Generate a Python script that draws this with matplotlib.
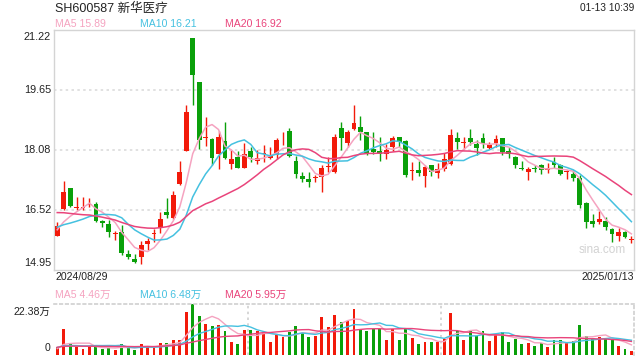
import matplotlib
matplotlib.use("Agg")
import matplotlib.pyplot as plt
import numpy as np
import pandas as pd

plt.rcParams['font.family'] = ['Liberation Sans', 'Noto Sans CJK SC', 'DejaVu Sans']

# daily OHLC, 2024/08/29 .. 2025/01/13 (90 sessions)
opens = [15.85, 16.54, 17.08, 16.56, 16.58, 16.66, 16.67, 16.24, 16.15, 15.88,
         15.93, 15.38, 15.25, 15.28, 15.63, 15.88, 16.04, 16.46, 16.30, 17.20,
         18.06, 21.00, 19.85, 18.40, 18.37, 17.98, 18.32, 17.71, 17.91, 17.62,
         18.06, 17.81, 17.99, 17.87, 17.95, 18.49, 18.58, 17.80, 17.41, 17.33,
         17.36, 17.39, 17.64, 17.52, 18.65, 18.26, 18.63, 18.69, 18.56, 18.11,
         18.06, 17.98, 18.17, 18.43, 18.32, 17.54, 17.55, 17.41, 17.69, 17.49,
         17.59, 17.71, 18.39, 18.26, 18.41, 18.24, 18.39, 18.15, 18.26, 18.39,
         18.06, 17.90, 17.62, 17.52, 17.61, 17.69, 17.55, 17.78, 17.69, 17.51,
         17.46, 17.36, 16.69, 16.23, 16.20, 16.23, 16.02, 15.84, 15.93, 15.73]
highs = [16.21, 17.28, 17.09, 16.85, 16.85, 16.84, 16.73, 16.26, 16.26, 15.97,
         16.13, 15.46, 15.36, 15.71, 15.78, 16.02, 16.46, 16.82, 17.02, 17.80,
         19.26, 21.02, 19.85, 18.95, 18.39, 18.58, 18.81, 18.09, 18.06, 18.26,
         18.17, 18.09, 18.21, 18.17, 18.39, 18.55, 18.65, 17.94, 17.52, 17.52,
         17.43, 17.69, 17.91, 18.49, 18.81, 18.61, 19.26, 18.98, 18.56, 18.56,
         18.43, 18.24, 18.46, 18.43, 18.35, 17.78, 17.80, 17.69, 17.69, 17.75,
         18.00, 18.63, 18.55, 18.43, 18.63, 18.35, 18.52, 18.29, 18.48, 18.39,
         18.17, 17.94, 17.80, 17.65, 17.69, 17.71, 17.74, 17.89, 17.71, 17.55,
         17.55, 17.43, 16.72, 16.40, 16.50, 16.34, 16.06, 16.04, 15.98, 15.84]
lows = [15.84, 16.52, 16.60, 16.52, 16.52, 16.60, 16.21, 16.08, 15.82, 15.73,
        15.34, 15.24, 15.12, 15.10, 15.47, 15.67, 15.91, 16.32, 16.27, 17.17,
        18.06, 19.26, 18.11, 18.20, 17.69, 17.60, 17.85, 17.60, 17.61, 17.61,
        17.78, 17.71, 17.76, 17.85, 17.85, 18.22, 17.91, 17.35, 17.26, 17.11,
        17.24, 17.00, 17.52, 17.48, 18.08, 18.17, 18.61, 18.35, 17.95, 17.97,
        17.80, 17.84, 18.06, 18.17, 17.39, 17.30, 17.41, 17.13, 17.41, 17.36,
        17.54, 17.69, 18.11, 18.11, 18.22, 17.95, 18.13, 18.11, 18.17, 17.95,
        17.87, 17.62, 17.55, 17.30, 17.52, 17.46, 17.48, 17.62, 17.43, 17.33,
        17.28, 16.58, 16.04, 16.08, 16.15, 15.99, 15.67, 15.71, 15.78, 15.66]
closes = [16.10, 16.98, 16.62, 16.60, 16.60, 16.68, 16.24, 16.17, 15.95, 15.90,
          15.40, 15.28, 15.17, 15.60, 15.71, 15.90, 16.28, 16.39, 16.91, 17.52,
          19.07, 20.04, 18.35, 18.42, 17.87, 18.42, 17.87, 17.85, 17.62, 17.98,
          17.89, 17.87, 18.00, 17.93, 18.35, 18.50, 17.94, 17.45, 17.33, 17.26,
          17.38, 17.62, 17.66, 18.43, 18.39, 18.56, 18.80, 18.55, 18.00, 18.02,
          17.99, 18.09, 18.41, 18.30, 17.43, 17.55, 17.49, 17.63, 17.52, 17.59,
          17.84, 18.48, 18.29, 18.28, 18.30, 18.13, 18.23, 18.22, 18.37, 18.02,
          17.97, 17.69, 17.60, 17.59, 17.60, 17.55, 17.61, 17.69, 17.46, 17.52,
          17.36, 16.65, 16.21, 16.15, 16.28, 16.08, 15.89, 15.95, 15.81, 15.74]
# volume in 万 shares
volumes = [3.4, 11.6, 4.9, 3.4, 2.7, 3.4, 4.0, 2.7, 3.0, 2.2,
           4.9, 3.4, 2.2, 4.9, 3.7, 3.4, 5.3, 5.3, 6.7, 6.7,
           18.8, 22.38, 16.9, 13.8, 12.9, 13.3, 10.4, 5.5, 4.9, 11.1,
           11.1, 10.4, 9.6, 5.5, 8.9, 7.9, 9.9, 12.6, 9.6, 7.7,
           8.2, 16.6, 12.2, 17.5, 14.4, 14.8, 20.0, 11.4, 10.4, 11.6,
           11.6, 6.4, 11.4, 6.8, 11.4, 7.6, 5.0, 5.9, 5.5, 5.9,
           7.1, 18.4, 10.7, 6.8, 10.7, 8.2, 10.7, 6.2, 8.7, 10.2,
           5.5, 7.1, 5.0, 5.3, 4.0, 5.2, 3.3, 6.7, 6.7, 5.3,
           6.2, 13.1, 8.4, 7.1, 7.7, 7.6, 6.4, 4.0, 2.7, 1.6]
# sessions before the window (estimated), needed for the moving averages
prev_closes = [17.05, 17.00, 16.95, 16.92, 16.83, 16.80, 16.75, 16.68, 16.67, 16.65,
               16.35, 16.20, 16.10, 16.05, 16.00, 15.95, 15.90, 16.00, 16.05]
prev_volumes = [3.2, 3.8, 3.5, 3.1, 3.6, 3.9, 3.4, 3.3, 3.7, 3.5,
                4.2, 3.6, 3.9, 3.8, 3.5, 2.4, 2.9, 2.6, 2.7]

title = 'SH600587 新华医疗'
stamp = '01-13 10:39'
start_label, end_label = '2024/08/29', '2025/01/13'
price_ticks = [21.22, 19.65, 18.08, 16.52, 14.95]
ma_names = ['MA5', 'MA10', 'MA20']
ma_windows = [5, 10, 20]
ma_price_text = ['15.89', '16.21', '16.92']
ma_vol_text = ['4.46万', '6.48万', '5.95万']
vol_max_label = '22.38万'

ma_colors = ['#f5a3c0', '#45c1e0', '#e9447b']
RED, GREEN = '#f21a0a', '#0aa00a'
W, H = 640, 360

n = len(closes)
x = np.arange(n)
o, h, l, c = map(np.array, (opens, highs, lows, closes))
up = c >= o
cols = np.where(up, RED, GREEN)

fig = plt.figure(figsize=(6.4, 3.6), dpi=100)

def px(xp, yp):
    return xp / W, 1 - yp / H

ax = fig.add_axes([54 / W, 90 / H, 580 / W, 240 / H])
ax.set_xlim(-0.5, n - 0.6)
ax.set_ylim(price_ticks[-1], price_ticks[0])
for s in ax.spines.values():
    s.set_color('#d4d4d4')
    s.set_linewidth(1)
ax.set_xticks([])
ax.set_yticks([])
for t in price_ticks[1:-1]:
    ax.axhline(t, color='#dcdcdc', lw=1.2, ls=(0, (1.5, 2)), zorder=0)

ax.vlines(x, l, h, colors=cols, lw=1, zorder=2)
body = np.maximum(np.abs(c - o), 0.025)
ax.bar(x, body, bottom=np.minimum(o, c), width=0.75, color=cols, zorder=3)

all_c = pd.Series(prev_closes + closes)
for win, col in zip(ma_windows, ma_colors):
    ma = all_c.rolling(win).mean().to_numpy()[-n:]
    ax.plot(x, ma, color=col, lw=1.1, zorder=4)

ax.text(0.945, 0.085, 'sina.com', transform=ax.transAxes, ha='center', va='center',
        fontsize=8.5, color='#d2d2d2')

# volume panel
vax = fig.add_axes([54 / W, 5 / H, 580 / W, 51 / H])
vax.set_xlim(-0.5, n - 0.6)
vax.set_ylim(0, 22.38)
for k, s in vax.spines.items():
    s.set_visible(k in ('top', 'right'))
    s.set_color('#d0d0d0')
    s.set_linestyle((0, (1.5, 2)))
    s.set_linewidth(1.2)
vax.set_xticks([])
vax.set_yticks([])
for xv in (29.5, 59.5):
    vax.axvline(xv, color='#d0d0d0', lw=1.2, ls=(0, (1.5, 2)), zorder=0)
vax.bar(x, volumes, width=0.45, color=cols, zorder=2)
all_v = pd.Series(prev_volumes + volumes)
for win, col in zip(ma_windows, ma_colors):
    ma = all_v.rolling(win).mean().to_numpy()[-n:]
    vax.plot(x, ma, color=col, lw=1.0, zorder=3)

# texts
fig.text(*px(55, 9), title, fontsize=9, color='#222222', va='center', ha='left')
fig.text(*px(634, 8), stamp, fontsize=7.3, color='#222222', va='center', ha='right')
for xp, name, val, col in zip([55, 140, 225], ma_names, ma_price_text, ma_colors):
    fig.text(*px(xp, 24), f'{name} {val}', fontsize=7.6, color=col, va='center', ha='left')
for xp, name, val, col in zip([55, 140, 225], ma_names, ma_vol_text, ma_colors):
    fig.text(*px(xp, 295), f'{name} {val}', fontsize=7.6, color=col, va='center', ha='left')

tick_y = [37, 90, 150, 210, 263]
for t, yp in zip(price_ticks, tick_y):
    fig.text(*px(51, yp), f'{t:.2f}', fontsize=7.8, color='#222222', va='center', ha='right')
fig.text(*px(55, 277), start_label, fontsize=7.6, color='#222222', va='center', ha='left')
fig.text(*px(634, 277), end_label, fontsize=7.6, color='#222222', va='center', ha='right')
fig.text(*px(50, 312), vol_max_label, fontsize=7.6, color='#222222', va='center', ha='right')
fig.text(*px(50, 348), '0', fontsize=7.6, color='#222222', va='center', ha='right')

fig.savefig('out.png', dpi=100)
